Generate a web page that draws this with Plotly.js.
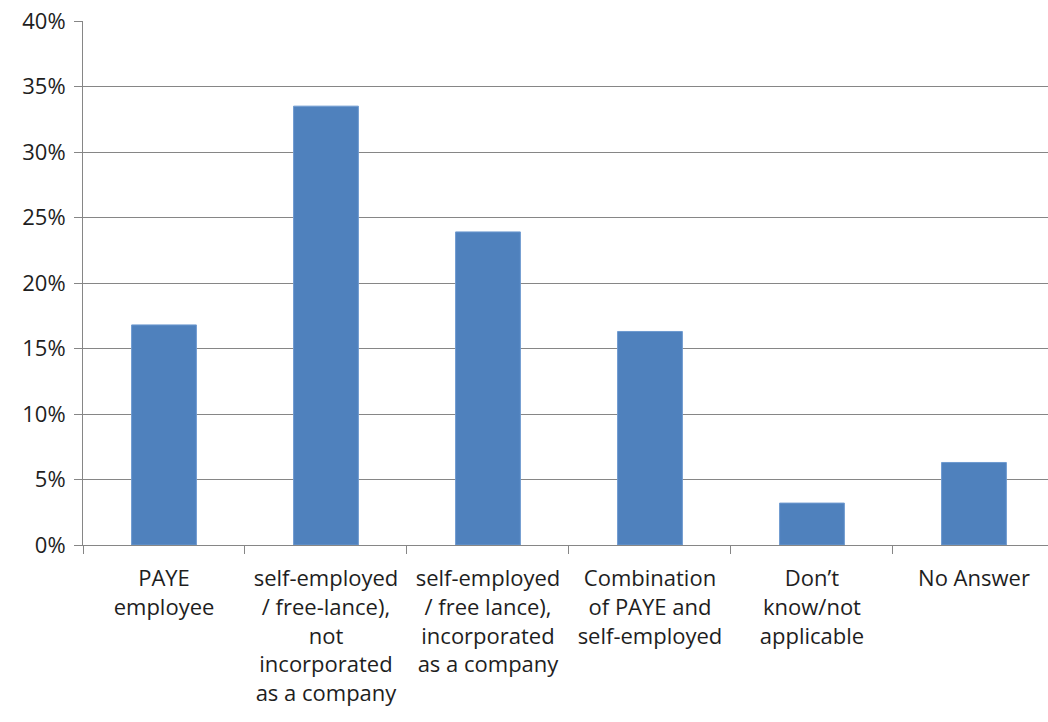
<!DOCTYPE html>
<html>
<head>
<meta charset="utf-8">
<script src="https://cdn.plot.ly/plotly-3.0.1.min.js"></script>
<style>html,body{margin:0;padding:0;background:#fff;}#chart{width:1048px;height:722px;}</style>
</head>
<body>
<div id="chart"></div>
<script>
const categories = [
  "PAYE<br>employee",
  "self-employed<br>/ free-lance),<br>not<br>incorporated<br>as a company",
  "self-employed<br>/ free lance),<br>incorporated<br>as a company",
  "Combination<br>of PAYE and<br>self-employed",
  "Don’t<br>know/not<br>applicable",
  "No Answer"
];
const values = [0.168, 0.335, 0.239, 0.163, 0.032, 0.063];
const yTickVals = [0, 0.05, 0.10, 0.15, 0.20, 0.25, 0.30, 0.35, 0.40];
const yTickText = ["0%", "5%", "10%", "15%", "20%", "25%", "30%", "35%", "40%"];

const trace = {
  type: "bar",
  x: categories,
  y: values,
  width: 0.4,
  marker: {color: "#4F81BD", line: {color: "#6E9AD0", width: 1}},
  hoverinfo: "none"
};

const layout = {
  width: 1048,
  height: 722,
  margin: {l: 83, r: 0, t: 21, b: 177},
  paper_bgcolor: "#ffffff",
  plot_bgcolor: "#ffffff",
  showlegend: false,
  font: {family: "'Open Sans', sans-serif", size: 22, color: "#1e1e1e"},
  xaxis: {
    type: "category",
    range: [-0.5, 5.457],
    tickson: "boundaries",
    ticks: "outside",
    ticklen: 8,
    tickcolor: "#868686",
    showline: true,
    linecolor: "#868686",
    linewidth: 1,
    showgrid: false,
    tickfont: {family: "'Open Sans', sans-serif", size: 22, color: "#1e1e1e"},
    tickangle: 0,
    ticklabelstandoff: 14,
    automargin: false
  },
  yaxis: {
    range: [0, 0.40],
    tickvals: yTickVals,
    ticktext: yTickText,
    ticks: "outside",
    ticklen: 8,
    tickcolor: "#868686",
    showline: true,
    linecolor: "#868686",
    linewidth: 1,
    showgrid: true,
    gridcolor: "#868686",
    gridwidth: 1,
    zeroline: false,
    tickfont: {family: "'Open Sans', sans-serif", size: 22, color: "#1e1e1e"},
    ticklabelstandoff: 4,
    automargin: false
  }
};

Plotly.newPlot("chart", [trace], layout, {staticPlot: true, displayModeBar: false});
</script>
</body>
</html>
